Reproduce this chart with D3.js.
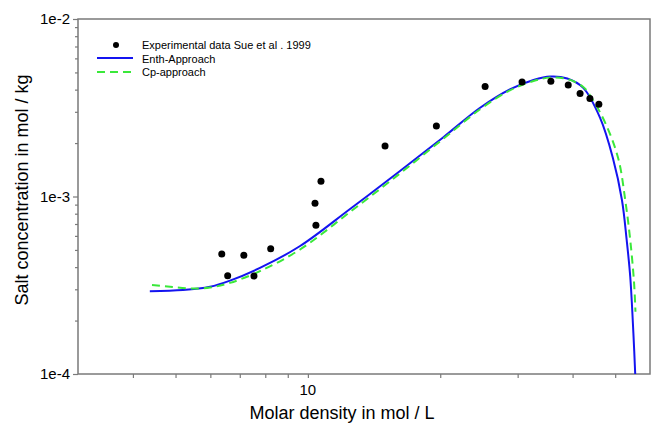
<!DOCTYPE html>
<html>
<head>
<meta charset="utf-8">
<script src="https://cdn.jsdelivr.net/npm/d3@7"></script>
<style>
  body { margin: 0; background: #fff; }
  svg { display: block; font-family: "Liberation Sans", Arial, sans-serif; }
</style>
</head>
<body>
<div id="chart"></div>
<script>
// ---- data ----
// experimental points (Sue et al. 1999): molar density, salt concentration
var expDensity = [6.37, 6.57, 7.15, 7.54, 8.23, 10.38, 10.43, 10.71, 14.98, 19.6, 25.3, 30.7, 35.7, 39.1, 41.6, 43.8, 45.9];
var expConc = [4.74e-4, 3.58e-4, 4.67e-4, 3.56e-4, 5.08e-4, 9.16e-4, 6.88e-4, 1.22e-3, 1.925e-3, 2.495e-3, 4.16e-3, 4.42e-3, 4.46e-3, 4.25e-3, 3.81e-3, 3.57e-3, 3.31e-3];

// Enth-Approach curve
var enthDensity = [4.37, 5.2, 5.99, 6.65, 7.78, 9.6, 12.47, 16.2, 20.3, 24.6, 28.8, 32.6, 35.6, 38.9, 42.3, 46.2, 49.4, 51.8, 53.1, 54.1, 55.0, 55.6];
var enthConc = [2.93e-4, 2.97e-4, 3.1e-4, 3.36e-4, 3.96e-4, 5.26e-4, 8.5e-4, 1.392e-3, 2.15e-3, 3.15e-3, 4.01e-3, 4.53e-3, 4.74e-3, 4.62e-3, 4.09e-3, 2.77e-3, 1.65e-3, 9.56e-4, 5.69e-4, 3.53e-4, 1.70e-4, 9.3e-5];

// Cp-approach curve
var cpDensity = [4.42, 4.86, 5.39, 5.99, 6.65, 7.78, 9.6, 12.47, 16.2, 20.3, 24.6, 28.8, 32.6, 35.6, 38.9, 42.3, 44.5, 47.9, 50.9, 52.7, 54.1, 55.2, 55.6];
var cpConc = [3.17e-4, 3.1e-4, 3.03e-4, 3.07e-4, 3.26e-4, 3.8e-4, 5.03e-4, 8.18e-4, 1.348e-3, 2.11e-3, 3.09e-3, 3.96e-3, 4.47e-3, 4.68e-3, 4.59e-3, 4.14e-3, 3.50e-3, 2.47e-3, 1.61e-3, 9.56e-4, 5.69e-4, 3.26e-4, 2.24e-4];

var xTicks = [4, 5, 6, 7, 8, 9, 10, 20, 30, 40, 50];
var xLabelTicks = [10];
var yTicks = [2e-4, 3e-4, 4e-4, 5e-4, 6e-4, 7e-4, 8e-4, 9e-4, 2e-3, 3e-3, 4e-3, 5e-3, 6e-3, 7e-3, 8e-3, 9e-3];
var yMajor = [1e-4, 1e-3, 1e-2];
var yMajorLabels = ["1e-4", "1e-3", "1e-2"];

var legendLabels = ["Experimental data Sue et al . 1999", "Enth-Approach", "Cp-approach"];

var blueColor = "#1414f0";
var greenColor = "#3ae83a";
var axisGrey = "#7a7a7a";

const margin = { top: 19, right: 1, bottom: 50, left: 78 },
  width = 651 - margin.left - margin.right,
  height = 424 - margin.top - margin.bottom;

const svg = d3.select("#chart")
  .append("svg")
  .attr("width", 651)
  .attr("height", 424);

const g = svg.append("g")
  .attr("transform", `translate(${margin.left},${margin.top})`);

const x = d3.scaleLog().domain([3, 60]).range([0, width]);
const y = d3.scaleLog().domain([1e-4, 1e-2]).range([height, 0]);

g.append("clipPath").attr("id", "clip")
  .append("rect").attr("width", width).attr("height", height);

// minor + major ticks, x
const xAxis = g.append("g")
  .attr("transform", `translate(0,${height})`)
  .call(d3.axisBottom(x).tickValues(xTicks).tickSize(4).tickFormat(""));
xAxis.select(".domain").remove();
xAxis.selectAll("line").attr("stroke", axisGrey).attr("stroke-width", 1.2);

g.append("g")
  .attr("transform", `translate(0,${height})`)
  .selectAll("text")
  .data(xLabelTicks)
  .enter()
  .append("text")
  .attr("x", d => x(d))
  .attr("y", 21)
  .attr("text-anchor", "middle")
  .style("font-size", "15px")
  .text(d => d);

// y ticks
const yAxis = g.append("g")
  .call(d3.axisLeft(y).tickValues(yTicks).tickSize(3).tickFormat(""));
yAxis.select(".domain").remove();
yAxis.selectAll("line").attr("stroke", axisGrey).attr("stroke-width", 1.2);

const yAxisMajor = g.append("g")
  .call(d3.axisLeft(y).tickValues(yMajor).tickSize(5).tickPadding(3)
    .tickFormat((d, i) => yMajorLabels[i]));
yAxisMajor.select(".domain").remove();
yAxisMajor.selectAll("line").attr("stroke", axisGrey).attr("stroke-width", 1.2);
yAxisMajor.selectAll("text")
  .attr("fill", "#000")
  .style("font-size", "15px")
  .style("font-family", "Liberation Sans, Arial, sans-serif");

// frame
g.append("rect")
  .attr("width", width)
  .attr("height", height)
  .attr("fill", "none")
  .attr("stroke", axisGrey)
  .attr("stroke-width", 1.5);

// curves
const line = d3.line()
  .x(d => x(d[0]))
  .y(d => y(d[1]))
  .curve(d3.curveCatmullRom);

const curves = g.append("g").attr("clip-path", "url(#clip)");

curves.append("path")
  .datum(d3.zip(enthDensity, enthConc))
  .attr("d", line)
  .attr("fill", "none")
  .attr("stroke", blueColor)
  .attr("stroke-width", 2);

curves.append("path")
  .datum(d3.zip(cpDensity, cpConc))
  .attr("d", line)
  .attr("fill", "none")
  .attr("stroke", greenColor)
  .attr("stroke-width", 2)
  .attr("stroke-dasharray", "8,5");

// points
g.selectAll(".dot")
  .data(d3.zip(expDensity, expConc))
  .enter()
  .append("circle")
  .attr("class", "dot")
  .attr("cx", d => x(d[0]))
  .attr("cy", d => y(d[1]))
  .attr("r", 3.5)
  .attr("fill", "#000");

// legend
const legend = svg.append("g").attr("transform", "translate(97,45)");
legend.append("circle").attr("cx", 19).attr("cy", 0).attr("r", 3).attr("fill", "#000");
legend.append("line").attr("x1", 0).attr("x2", 36).attr("y1", 13).attr("y2", 13)
  .attr("stroke", blueColor).attr("stroke-width", 2);
legend.append("line").attr("x1", 0).attr("x2", 36).attr("y1", 27).attr("y2", 27)
  .attr("stroke", greenColor).attr("stroke-width", 2).attr("stroke-dasharray", "8,5");
legend.selectAll("text")
  .data(legendLabels)
  .enter()
  .append("text")
  .attr("x", 45)
  .attr("y", (d, i) => i * 13.5 + 4)
  .style("font-size", "11px")
  .text(d => d);

// axis titles
svg.append("text")
  .attr("x", 342)
  .attr("y", 419)
  .attr("text-anchor", "middle")
  .style("font-size", "18px")
  .text("Molar density in mol / L");

svg.append("text")
  .attr("transform", "translate(28,190)rotate(-90)")
  .attr("text-anchor", "middle")
  .style("font-size", "18px")
  .text("Salt concentration in mol / kg");
</script>
</body>
</html>
